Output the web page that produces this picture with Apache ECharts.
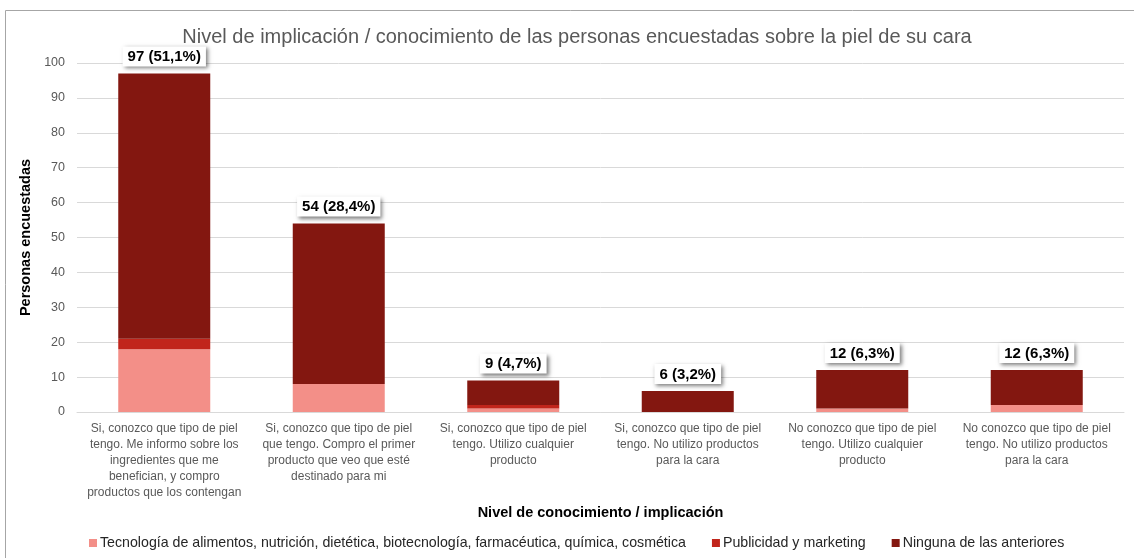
<!DOCTYPE html>
<html>
<head>
<meta charset="utf-8">
<script src="https://cdn.jsdelivr.net/npm/echarts@6/dist/echarts.min.js"></script>
<style>
html,body{margin:0;padding:0;background:#fff;}
#c{width:1134px;height:558px;}
</style>
</head>
<body>
<div id="c"></div>
<script>
const categories = [
  "Si, conozco que tipo de piel\ntengo. Me informo sobre los\ningredientes que me\nbenefician, y compro\nproductos que los contengan",
  "Si, conozco que tipo de piel\nque tengo. Compro el primer\nproducto que veo que esté\ndestinado para mi",
  "Si, conozco que tipo de piel\ntengo. Utilizo cualquier\nproducto",
  "Si, conozco que tipo de piel\ntengo. No utilizo productos\npara la cara",
  "No conozco que tipo de piel\ntengo. Utilizo cualquier\nproducto",
  "No conozco que tipo de piel\ntengo. No utilizo productos\npara la cara"
];
const seriesNames = [
  "Tecnología de alimentos, nutrición, dietética, biotecnología, farmacéutica, química, cosmética",
  "Publicidad y marketing",
  "Ninguna de las anteriores"
];
const tecnologia = [18, 8, 1, 0, 1, 2];
const publicidad = [3, 0, 1, 0, 0, 0];
const ninguna = [76, 46, 7, 6, 11, 10];
const yTicks = [0, 10, 20, 30, 40, 50, 60, 70, 80, 90, 100];

const totals = categories.map((_, i) => tecnologia[i] + publicidad[i] + ninguna[i]);
const grandTotal = totals.reduce((a, b) => a + b, 0);
const colors = ["#F38F88", "#C1251B", "#831710"];
const FF = 'Liberation Sans, Arial, sans-serif';

const chart = echarts.init(document.getElementById('c'));
const labelFmt = p => {
  const t = totals[p.dataIndex];
  const pct = (t / grandTotal * 100).toFixed(1).replace('.', ',');
  return t + ' (' + pct + '%)';
};
chart.setOption({
  animation: false,
  color: colors,
  title: {
    text: 'Nivel de implicación / conocimiento de las personas encuestadas sobre la piel de su cara',
    left: 572, top: 22, textAlign: 'center',
    textStyle: {fontFamily: FF, fontSize: 20, fontWeight: 'normal', color: '#595959'}
  },
  graphic: [{
    type: 'rect', shape: {x: 5.5, y: 10.5, width: 1140, height: 560},
    style: {fill: 'none', stroke: '#a6a6a6', lineWidth: 1}, silent: true, z: -10
  }],
  legend: {
    data: seriesNames, bottom: 3, left: 84,
    itemWidth: 8, itemHeight: 8, itemGap: 26, icon: 'rect',
    textStyle: {fontFamily: FF, fontSize: 14.2, color: '#262626', padding: [0, 0, 0, -2]}
  },
  grid: {left: 77, right: 10, top: 63, bottom: 146, containLabel: false},
  xAxis: {
    type: 'category', data: categories,
    name: 'Nivel de conocimiento / implicación', nameLocation: 'middle', nameGap: 90,
    nameTextStyle: {fontFamily: FF, fontSize: 14.5, fontWeight: 'bold', color: '#000'},
    axisLine: {lineStyle: {color: '#d9d9d9', width: 1}},
    axisTick: {show: false},
    axisLabel: {interval: 0, fontFamily: FF, fontSize: 12, color: '#595959', lineHeight: 16, margin: 9, align: 'center'}
  },
  yAxis: {
    type: 'value', min: 0, max: 100, interval: 10,
    name: 'Personas encuestadas', nameLocation: 'middle', nameGap: 43,
    nameTextStyle: {fontFamily: FF, fontSize: 14.5, fontWeight: 'bold', color: '#000'},
    axisLine: {show: false}, axisTick: {show: false},
    axisLabel: {fontFamily: FF, fontSize: 12.5, color: '#595959', margin: 12,
      formatter: v => yTicks.includes(v) ? String(v) : ''},
    splitLine: {lineStyle: {color: '#d9d9d9', width: 1}}
  },
  series: [
    {name: seriesNames[0], type: 'bar', stack: 'a', data: tecnologia, barWidth: 92},
    {name: seriesNames[1], type: 'bar', stack: 'a', data: publicidad, barWidth: 92},
    {name: seriesNames[2], type: 'bar', stack: 'a', data: ninguna, barWidth: 92,
      label: {
        show: true, position: 'top', distance: 7, formatter: labelFmt,
        fontFamily: FF, fontSize: 15, fontWeight: 'bold', color: '#000',
        backgroundColor: '#fff', padding: [3, 5, 2, 5],
        shadowColor: 'rgba(0,0,0,0.5)', shadowBlur: 4, shadowOffsetX: 2, shadowOffsetY: 2
      }
    }
  ]
});
</script>
</body>
</html>
